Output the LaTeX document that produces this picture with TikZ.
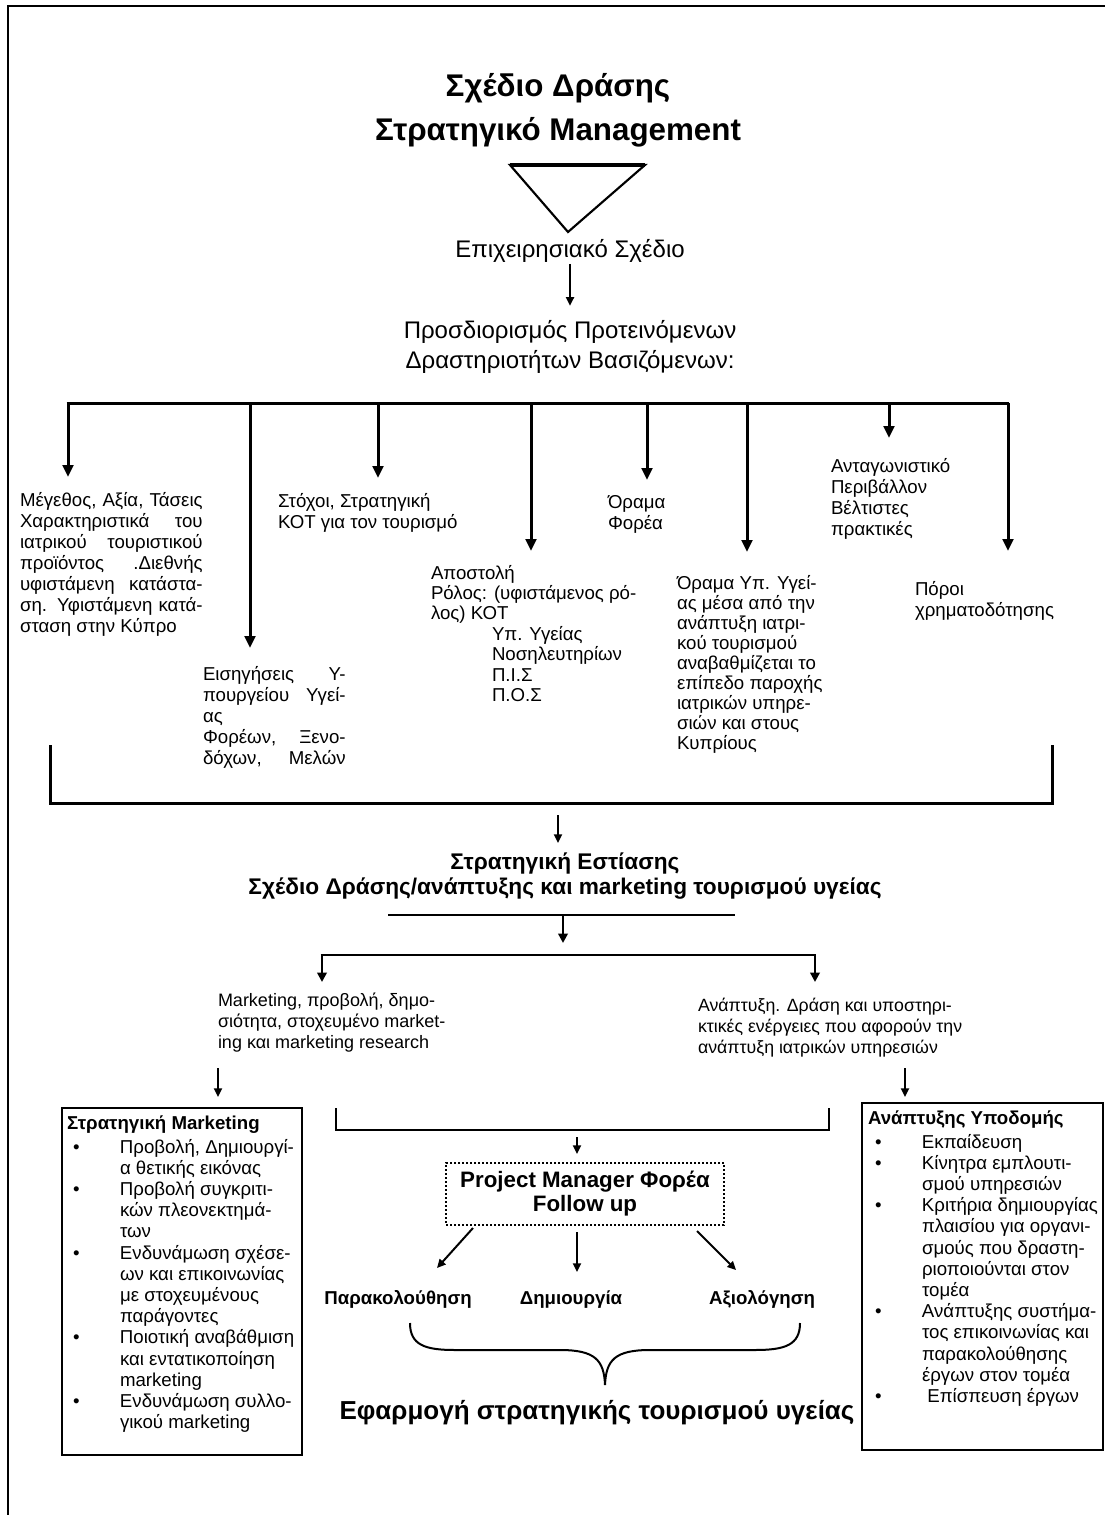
\documentclass[tikz,border=0pt]{standalone}
\usepackage{fontspec}
\setmainfont{Liberation Sans}
\usetikzlibrary{arrows.meta}
\newcommand\jl[2]{\makebox[#1][s]{#2}}
\newcommand\bfont{\fontsize{14}{15.75}\selectfont}
\newcommand\boxfont{\fontsize{14}{15.9}\selectfont}
\newcommand\bul{\leavevmode\llap{\makebox[35.25pt][l]{\textbullet}}}
\begin{document}
\begin{tikzpicture}[x=0.75pt,y=-0.75pt,
  every node/.style={inner sep=0pt, outer sep=0pt},
  txt/.style={anchor=north west, align=left, font=\bfont},
  bus/.style={line width=2.25pt},
  midbus/.style={line width=1.9pt},
  bigarr/.style={line width=2.25pt, -{Triangle[length=9pt,width=8pt]}},
  midarr/.style={line width=1.9pt, -{Triangle[length=7pt,width=7pt]}},
  smallarr/.style={line width=1.5pt, -{Triangle[length=6.5pt,width=6pt]}},
  ttl/.style={font=\fontsize{23.5}{28}\selectfont\bfseries},
  sub/.style={font=\fontsize{18}{22.5}\selectfont, align=center},
  lbl/.style={font=\fontsize{14}{16}\selectfont\bfseries, anchor=base},
  boxtitle/.style={anchor=north west, font=\fontsize{14}{16}\selectfont\bfseries},
  itembox/.style={draw, line width=1.5pt, anchor=north west},
]
\useasboundingbox (0,0) rectangle (1105,1515);
\fill[white] (0,0) rectangle (1105,1515);
\draw[line width=1.2pt] (8,1515) -- (8,6) -- (1105,6);

% titles
\node[ttl] (t1) at (558,88) {Σχέδιο Δράσης};
\node[ttl] (t2) at (558,132) {Στρατηγικό Management};
\draw[line width=1.6pt, line join=miter] (510,165) -- (645,165) -- (568,232) -- cycle;
\draw[line width=2.4pt] (510,165) -- (645,165);

\node[sub] (plan) at (570,251) {Επιχειρησιακό Σχέδιο};
\node[sub] (det) at (570,347) {Προσδιορισμός Προτεινόμενων\\Δραστηριοτήτων Βασιζόμενων:};
\draw[smallarr] ([yshift=-1pt]plan.south) -- ([yshift=11pt]det.north);

% bus
\foreach \i/\x/\ty in {1/68/477,2/250/648,3/378/478,4/531/551,5/647/480,6/747/552,7/889/438,8/1008/551}{
  \coordinate (b\i) at (\x,403);
  \coordinate (e\i) at (\x,\ty);
}
\draw[bus] ([xshift=-1.1pt]b1) -- ([xshift=1.1pt]b8);
\foreach \i in {1,...,8}{\draw[bigarr] (b\i) -- (e\i);}

% texts under the bus
\node[txt] (n1) at (20,492) {\jl{137pt}{Μέγεθος, Αξία, Τάσεις}\\\jl{137pt}{Χαρακτηριστικά του}\\\jl{137pt}{ιατρικού τουριστικού}\\\jl{137pt}{προϊόντος .Διεθνής}\\\jl{137pt}{υφιστάμενη κατάστα-}\\\jl{137pt}{ση. Υφιστάμενη κατά-}\\σταση στην Κύπρο};
\node[txt] (n2) at (203,666) {\jl{107pt}{Εισηγήσεις Υ-}\\\jl{107pt}{πουργείου Υγεί-}\\ας\\\jl{107pt}{Φορέων, Ξενο-}\\\jl{107pt}{δόχων, Μελών}};
\node[txt] (n3) at (278,493) {Στόχοι, Στρατηγική\\ΚΟΤ για τον τουρισμό};
\node[txt, font=\fontsize{14}{15.3}\selectfont] (n4) at (431,565) {Αποστολή\\Ρόλος: (υφιστάμενος ρό-\\λος) ΚΟΤ\\\hspace*{45.75pt}Υπ. Υγείας\\\hspace*{45.75pt}Νοσηλευτηρίων\\\hspace*{45.75pt}Π.Ι.Σ\\\hspace*{45.75pt}Π.Ο.Σ};
\node[txt] (n5) at (608,495) {Όραμα\\Φορέα};
\node[txt, font=\fontsize{14}{15}\selectfont] (n6) at (677,575) {Όραμα Υπ. Υγεί-\\ας μέσα από την\\ανάπτυξη ιατρι-\\κού τουρισμού\\αναβαθμίζεται το\\επίπεδο παροχής\\ιατρικών υπηρε-\\σιών και στους\\Κυπρίους};
\node[txt] (n7) at (831,458) {Ανταγωνιστικό\\Περιβάλλον\\Βέλτιστες\\πρακτικές};
\node[txt] (n8) at (915,581) {Πόροι\\χρηματοδότησης};

% collecting bracket
\coordinate (L1) at (50,745); \coordinate (L2) at (50,803);
\coordinate (R1) at (1052,745); \coordinate (R2) at (1052,803);
\draw[bus] (L1) -- (L2) -- (R2) -- (R1);
\coordinate (a1s) at (558,815); \coordinate (a1e) at (558,843);
\draw[smallarr] (a1s) -- (a1e);

\node[font=\fontsize{17}{18.75}\selectfont\bfseries, align=center] (focus) at (565,876) {Στρατηγική Εστίασης\\Σχέδιο Δράσης/ανάπτυξης και marketing τουρισμού υγείας};

\coordinate (f1) at (388,915); \coordinate (f2) at (735,915);
\draw[midbus] (f1) -- (f2);
\coordinate (f3) at (563,915); \coordinate (f4) at (563,943);
\draw[midarr] (f3) -- (f4);
\coordinate (s1) at (322,955); \coordinate (s2) at (815,955);
\coordinate (s1e) at (322,982); \coordinate (s2e) at (815,982);
\draw[midbus] ([xshift=-0.95pt]s1) -- ([xshift=0.95pt]s2);
\draw[midarr] (s1) -- (s1e);
\draw[midarr] (s2) -- (s2e);

\node[txt, font=\fontsize{13.5}{15.75}\selectfont] (mk) at (218,993) {Marketing, προβολή, δημο-\\σιότητα, στοχευμένο market-\\ing και marketing research};
\node[txt, font=\fontsize{13.3}{15.75}\selectfont] (an) at (698,998) {Ανάπτυξη. Δράση και υποστηρι-\\κτικές ενέργειες που αφορούν την\\ανάπτυξη ιατρικών υπηρεσιών};

\coordinate (m1) at (218,1068); \coordinate (m1e) at (218,1097);
\coordinate (m2) at (905,1068); \coordinate (m2e) at (905,1097);
\draw[smallarr] (m1) -- (m1e);
\draw[smallarr] (m2) -- (m2e);

% left box
\node[itembox, minimum width=180pt, minimum height=260.25pt] (lbox) at (62,1108) {};
\node[boxtitle] (lt) at (67,1116) {Στρατηγική Marketing};
\node[txt, font=\boxfont] (lb) at (120,1139) {\bul Προβολή, Δημιουργί-\\α θετικής εικόνας\\\bul Προβολή συγκριτι-\\κών πλεονεκτημά-\\των\\\bul Ενδυνάμωση σχέσε-\\ων και επικοινωνίας\\με στοχευμένους\\παράγοντες\\\bul Ποιοτική αναβάθμιση\\και εντατικοποίηση\\marketing\\\bul Ενδυνάμωση συλλο-\\γικού marketing};

% right box
\node[itembox, minimum width=180.75pt, minimum height=260.25pt] (rbox) at (862,1103) {};
\node[boxtitle] (rt) at (868,1111) {Ανάπτυξης Υποδομής};
\node[txt, font=\boxfont] (rb) at (922,1134) {\bul Εκπαίδευση\\\bul Κίνητρα εμπλουτι-\\σμού υπηρεσιών\\\bul Κριτήρια δημιουργίας\\πλαισίου για οργανι-\\σμούς που δραστη-\\ριοποιούνται στον\\τομέα\\\bul Ανάπτυξης συστήμα-\\τος επικοινωνίας και\\παρακολούθησης\\έργων στον τομέα\\\bul\hspace*{4pt}Επίσπευση έργων};

% middle bracket
\coordinate (c1) at (336,1108); \coordinate (c2) at (336,1130);
\coordinate (c3) at (829,1130); \coordinate (c4) at (829,1108);
\draw[line width=1.9pt] (c1) -- (c2) -- (c3) -- (c4);
\coordinate (p1) at (577,1137); \coordinate (p1e) at (577,1154);
\draw[smallarr] (p1) -- (p1e);

\node[draw, line width=1.5pt, dash pattern=on 1.5pt off 1.5pt, minimum width=208.5pt, minimum height=46.5pt, align=center, font=\fontsize{16.75}{18}\selectfont\bfseries] (pm) at (585,1194) {Project Manager Φορέα\\Follow up};

\node[lbl] (par) at (398,1304) {Παρακολούθηση};
\node[lbl] (dim) at (571,1304) {Δημιουργία};
\node[lbl] (axi) at (762,1304) {Αξιολόγηση};

\coordinate (q1) at (473,1228); \coordinate (q1e) at (437,1268);
\coordinate (q2) at (577,1232); \coordinate (q2e) at (577,1272);
\coordinate (q3) at (697,1231); \coordinate (q3e) at (736,1270);
\draw[smallarr] (q1) -- (q1e);
\draw[smallarr] (q2) -- (q2e);
\draw[smallarr] (q3) -- (q3e);

\draw[line width=1.5pt] (410,1323) .. controls (410,1345) and (425,1350) .. (455,1350) -- (560,1350) .. controls (595,1350) and (604,1360) .. (605,1385) .. controls (606,1360) and (615,1350) .. (650,1350) -- (755,1350) .. controls (785,1350) and (800,1345) .. (800,1323);

\node[font=\fontsize{19.5}{22}\selectfont\bfseries] (fin) at (597,1413) {Εφαρμογή στρατηγικής τουρισμού υγείας};
\end{tikzpicture}
\end{document}
